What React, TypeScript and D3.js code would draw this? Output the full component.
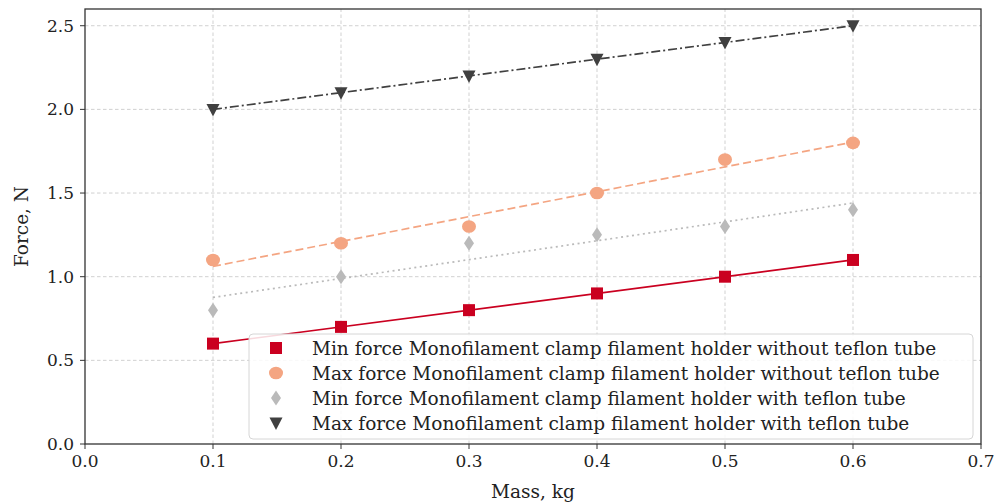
import * as d3 from 'd3';

const masses = [0.1, 0.2, 0.3, 0.4, 0.5, 0.6];
const minNoTeflon = [0.6, 0.7, 0.8, 0.9, 1.0, 1.1];
const maxNoTeflon = [1.1, 1.2, 1.3, 1.5, 1.7, 1.8];
const minTeflon = [0.8, 1.0, 1.2, 1.25, 1.3, 1.4];
const maxTeflon = [2.0, 2.1, 2.2, 2.3, 2.4, 2.5];

const xTicks = [0, 0.1, 0.2, 0.3, 0.4, 0.5, 0.6, 0.7];
const yTicks = [0, 0.5, 1.0, 1.5, 2.0, 2.5];

const labels = [
  'Min force Monofilament clamp filament holder without teflon tube',
  'Max force Monofilament clamp filament holder without teflon tube',
  'Min force Monofilament clamp filament holder with teflon tube',
  'Max force Monofilament clamp filament holder with teflon tube',
];

type Series = {
  values: number[];
  label: string;
  color: string;
  marker: 'square' | 'circle' | 'diamond' | 'triangle';
  dash: string;
};

const series: Series[] = [
  { values: minNoTeflon, label: labels[0], color: '#ca0020', marker: 'square', dash: '' },
  { values: maxNoTeflon, label: labels[1], color: '#f4a582', marker: 'circle', dash: '8,4' },
  { values: minTeflon, label: labels[2], color: '#bababa', marker: 'diamond', dash: '2,3.5' },
  { values: maxTeflon, label: labels[3], color: '#404040', marker: 'triangle', dash: '9,3,2,3' },
];

const width = 994;
const height = 502;
const margin = { top: 9, right: 13, bottom: 58, left: 85 };
const font = '"DejaVu Serif", serif';
const fs = 18.5;
const tickFs = 17;

// least squares fit, drawn as the trend line
function fit(xs: number[], ys: number[]) {
  const mx = d3.mean(xs) as number;
  const my = d3.mean(ys) as number;
  const num = d3.sum(xs, (x, i) => (x - mx) * (ys[i] - my));
  const den = d3.sum(xs, x => (x - mx) ** 2);
  const slope = num / den;
  return (x: number) => my + slope * (x - mx);
}

function Marker({ type, color, x, y }: { type: Series['marker']; color: string; x: number; y: number }) {
  if (type === 'square') {
    return <rect x={x - 6} y={y - 6} width={12} height={12} fill={color} />;
  }
  if (type === 'circle') {
    return <ellipse cx={x} cy={y} rx={7} ry={6.3} fill={color} />;
  }
  if (type === 'diamond') {
    return <path d={`M${x},${y - 7.5}L${x + 5},${y}L${x},${y + 7.5}L${x - 5},${y}Z`} fill={color} />;
  }
  return <path d={`M${x - 6.5},${y - 5.5}L${x + 6.5},${y - 5.5}L${x},${y + 7}Z`} fill={color} />;
}

export default function App() {
  const x = d3.scaleLinear().domain([0, 0.7]).range([margin.left, width - margin.right]);
  const y = d3.scaleLinear().domain([0, 2.6]).range([height - margin.bottom, margin.top]);
  const x0 = x.range()[0];
  const x1 = x.range()[1];
  const y0 = y.range()[0];
  const y1 = y.range()[1];

  const lx = d3.extent(masses) as [number, number];

  const legend = { left: 249, top: 334, right: 973, bottom: 439, rowH: 25 };

  return (
    <div style={{ position: 'absolute', left: 0, top: 0 }}>
      <svg width={width} height={height} style={{ display: 'block', fontFamily: font }}>
        <rect width={width} height={height} fill="white" />
        {/* grid */}
        <g stroke="#cccccc" strokeWidth={0.9} strokeDasharray="3.5,2.5">
          {xTicks.slice(1, -1).map(t => (
            <line key={'gx' + t} x1={x(t)} x2={x(t)} y1={y0} y2={y1} />
          ))}
          {yTicks.slice(1).map(t => (
            <line key={'gy' + t} x1={x0} x2={x1} y1={y(t)} y2={y(t)} />
          ))}
        </g>

        {/* series */}
        {series.map(s => {
          const f = fit(masses, s.values);
          return (
            <g key={s.label}>
              {masses.map((m, i) => (
                <Marker key={i} type={s.marker} color={s.color} x={x(m)} y={y(s.values[i])} />
              ))}
              <line
                x1={x(lx[0])}
                y1={y(f(lx[0]))}
                x2={x(lx[1])}
                y2={y(f(lx[1]))}
                stroke={s.color}
                strokeWidth={1.7}
                strokeDasharray={s.dash || undefined}
              />
            </g>
          );
        })}

        {/* frame */}
        <rect x={x0} y={y1} width={x1 - x0} height={y0 - y1} fill="none" stroke="#333" strokeWidth={1.3} />

        {/* ticks */}
        <g fill="#222" fontSize={tickFs}>
          {xTicks.map(t => (
            <g key={'xt' + t} transform={`translate(${x(t)},${y0})`}>
              <line y2={5} stroke="#333" />
              <text y={23} textAnchor="middle">{t.toFixed(1)}</text>
            </g>
          ))}
          {yTicks.map(t => (
            <g key={'yt' + t} transform={`translate(${x0},${y(t)})`}>
              <line x2={-5} stroke="#333" />
              <text x={-11} y={6} textAnchor="end">{t.toFixed(1)}</text>
            </g>
          ))}
        </g>

        <text x={(x0 + x1) / 2} y={498} textAnchor="middle" fontSize={fs} fill="#222">Mass, kg</text>
        <text transform={`translate(28,${(y0 + y1) / 2}) rotate(-90)`} textAnchor="middle" fontSize={fs} fill="#222">Force, N</text>

        {/* legend */}
        <rect
          x={legend.left}
          y={legend.top}
          width={legend.right - legend.left}
          height={legend.bottom - legend.top}
          rx={4}
          fill="white"
          fillOpacity={0.85}
          stroke="#d6d6d6"
        />
        {series.map((s, i) => {
          const cy = legend.top + 14 + i * legend.rowH;
          return (
            <g key={'lg' + i}>
              <Marker type={s.marker} color={s.color} x={276} y={cy} />
              <text x={312} y={cy + 6.5} fontSize={fs} fill="#222">{s.label}</text>
            </g>
          );
        })}
      </svg>
    </div>
  );
}
